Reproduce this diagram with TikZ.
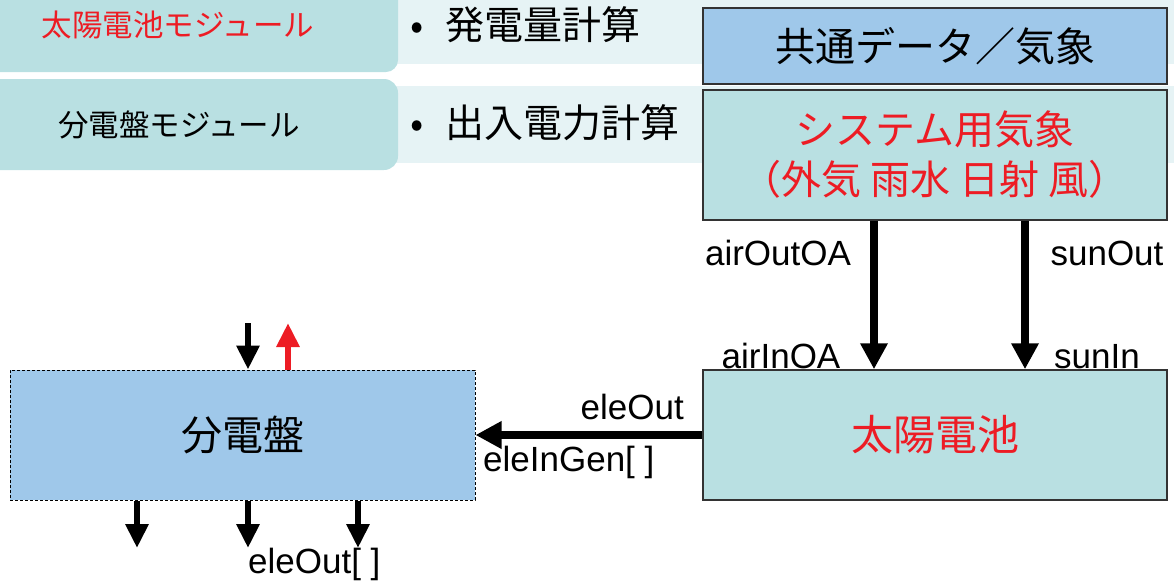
\documentclass[tikz,border=0pt]{standalone}
\usepackage{fontspec}
\setmainfont{Liberation Sans}
\newfontfamily\cjk{Noto Sans CJK JP}
\usetikzlibrary{arrows.meta}
\definecolor{tealbox}{HTML}{B9E0E2}
\definecolor{panelbg}{HTML}{E6F3F5}
\definecolor{bluebox}{HTML}{9FC8EA}
\definecolor{redtxt}{HTML}{ED1C24}
\definecolor{border}{HTML}{333333}
\tikzset{
  box/.style={draw=border, line width=1.5pt, minimum width=464pt, inner sep=0pt, align=center},
  lbl/.style={inner sep=0pt, anchor=base, font=\fontsize{35}{35}\selectfont},
  bigarr/.style={line width=8pt, -{Triangle[length=26pt,width=26pt]}},
  smallarr/.style={line width=6pt, -{Triangle[length=24pt,width=22pt]}},
}
\begin{document}
\begin{tikzpicture}[x=1pt,y=-1pt]
\useasboundingbox (0,0) rectangle (1174,582);
\clip (0,0) rectangle (1174,582);
% module panels
\fill[panelbg] (380,-10) rectangle (1174,64);
\fill[panelbg] (380,86) rectangle (1174,163);
\fill[tealbox, rounded corners=12pt] (-30,-30) rectangle (398,72);
\fill[tealbox, rounded corners=14pt] (-30,79) rectangle (398,170);
\node[inner sep=0pt, text=redtxt, font=\cjk\fontsize{30.5}{30.5}\selectfont] (m1) at (178,25) {太陽電池モジュール};
\node[inner sep=0pt, font=\cjk\fontsize{30.5}{30.5}\selectfont] (m2) at (179,125) {分電盤モジュール};
\node[inner sep=0pt, anchor=west, font=\cjk\fontsize{39}{39}\selectfont] (p1) at (410,25) {\makebox[35pt][l]{•}発電量計算};
\node[inner sep=0pt, anchor=west, font=\cjk\fontsize{39}{39}\selectfont] (p2) at (410,123) {\makebox[35pt][l]{•}出入電力計算};
% boxes
\node[box, fill=bluebox, minimum height=76pt, font=\cjk\fontsize{40}{40}\selectfont] (common) at (935,46) {共通データ／気象};
\node[box, fill=tealbox, minimum height=130pt, text=redtxt, font=\cjk\fontsize{40}{50}\selectfont] (sys) at (935,155) {システム用気象\\（外気 雨水 日射 風）};
\node[box, fill=tealbox, minimum height=130pt, text=redtxt, font=\cjk\fontsize{42}{42}\selectfont] (solar) at (935,435) {太陽電池};
\node[draw=black, line width=1pt, dash pattern=on 3pt off 2pt, fill=bluebox, minimum width=465pt, minimum height=130pt, inner sep=0pt, font=\cjk\fontsize{41}{41}\selectfont] (dist) at (242.5,435) {分電盤};
% connectors
\coordinate (xa) at (874,0);
\coordinate (xs) at (1025,0);
\draw[bigarr] (sys.south -| xa) -- (solar.north -| xa);
\draw[bigarr] (sys.south -| xs) -- (solar.north -| xs);
\draw[bigarr] (solar.west) -- (dist.east);
\coordinate (tin) at (248,323);
\coordinate (tout) at (288,323);
\draw[smallarr] (tin) -- (dist.north -| tin);
\draw[smallarr, redtxt] (dist.north -| tout) -- (tout);
\coordinate (b1) at (137,548);
\coordinate (b2) at (248,548);
\coordinate (b3) at (358,548);
\draw[smallarr] (dist.south -| b1) -- (b1);
\draw[smallarr] (dist.south -| b2) -- (b2);
\draw[smallarr] (dist.south -| b3) -- (b3);
% labels
\node[lbl] (l1) at (778,265) {airOutOA};
\node[lbl] (l2) at (1107,265) {sunOut};
\node[lbl] (l3) at (781,368) {airInOA};
\node[lbl] (l4) at (1097,368) {sunIn};
\node[lbl, anchor=base east] (l5) at (684,419) {eleOut};
\node[lbl, anchor=base west] (l6) at (483,471) {eleInGen[ ]};
\node[lbl, anchor=base west] (l7) at (248,573) {eleOut[ ]};
\end{tikzpicture}
\end{document}
